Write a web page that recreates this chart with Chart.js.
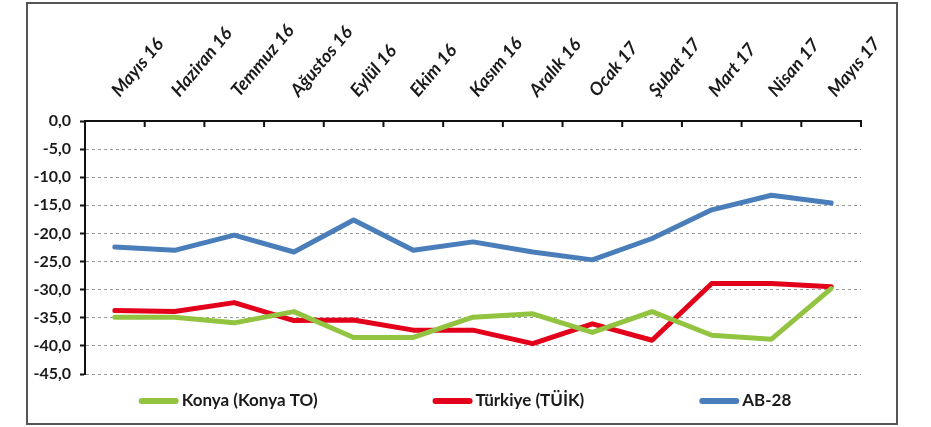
<!DOCTYPE html>
<html>
<head>
<meta charset="utf-8">
<script src="https://cdn.jsdelivr.net/npm/chart.js@4.4.1/dist/chart.umd.min.js"></script>
<style>
  html, body { margin: 0; padding: 0; background: #fff; }
  #wrap { width: 931px; height: 427px; }
</style>
</head>
<body>
<div id="wrap"><canvas id="myChart" width="931" height="427"></canvas></div>
<script>
// -------------  DATA  -------------
const months = ['Mayıs 16', 'Haziran 16', 'Temmuz 16', 'Ağustos 16', 'Eylül 16', 'Ekim 16',
                'Kasım 16', 'Aralık 16', 'Ocak 17', 'Şubat 17', 'Mart 17', 'Nisan 17', 'Mayıs 17'];
const konya   = [-34.9, -34.9, -35.9, -33.9, -38.5, -38.5, -34.9, -34.3, -37.6, -33.9, -38.1, -38.8, -29.8];
const turkiye = [-33.7, -33.9, -32.3, -35.5, -35.4, -37.2, -37.2, -39.6, -36.1, -39.0, -28.9, -28.9, -29.5];
const ab28    = [-22.4, -23.0, -20.3, -23.3, -17.6, -23.0, -21.5, -23.3, -24.7, -20.9, -15.8, -13.2, -14.6];
const yTicks  = [0, -5, -10, -15, -20, -25, -30, -35, -40, -45];

const GREEN = '#92c441';
const RED   = '#e2001a';
const BLUE  = '#4a7ebb';
const FONT  = 'Lato, "Open Sans", sans-serif';
//==================================

// frame round the whole chart + inward tick marks on the top axis
const framePlugin = {
    id: 'frame',
    beforeDraw(chart) {
        const ctx = chart.ctx;
        ctx.save();
        ctx.fillStyle = '#fff';
        ctx.fillRect(0, 0, chart.width, chart.height);
        ctx.strokeStyle = '#555';
        ctx.lineWidth = 2;
        ctx.strokeRect(27, 3, 870, 421);
        ctx.restore();
    },
    afterDraw(chart) {
        const ctx = chart.ctx;
        const x = chart.scales.x;
        const a = chart.chartArea;
        ctx.save();
        ctx.strokeStyle = '#111';
        ctx.lineWidth = 2;
        ctx.beginPath();
        for (let i = 1; i <= months.length; i++) {
            const px = x.getPixelForValue(i - 0.5);
            ctx.moveTo(px, a.top);
            ctx.lineTo(px, a.top + 6);
        }
        ctx.stroke();
        ctx.restore();
    }
};

// legend drawn by hand so the wide spacing of the original can be kept
const legendPlugin = {
    id: 'wideLegend',
    afterDraw(chart) {
        const ctx = chart.ctx;
        const lineW = 40, gap = 3, spacing = 115, y = 401;
        ctx.save();
        ctx.font = 'bold 17px ' + FONT;
        ctx.textBaseline = 'middle';
        const items = chart.data.datasets.map(ds => ({
            label: ds.label, color: ds.borderColor,
            w: lineW + gap + ctx.measureText(ds.label).width
        }));
        const total = items.reduce((s, it) => s + it.w, 0) + spacing * (items.length - 1);
        let x = 465 - total / 2;
        items.forEach(it => {
            ctx.strokeStyle = it.color;
            ctx.lineWidth = 6;
            ctx.lineCap = 'round';
            ctx.beginPath();
            ctx.moveTo(x + 3, y);
            ctx.lineTo(x + lineW - 3, y);
            ctx.stroke();
            ctx.fillStyle = '#1a1a1a';
            ctx.fillText(it.label, x + lineW + gap, y);
            x += it.w + spacing;
        });
        ctx.restore();
    }
};

function lineSet(label, data, color) {
    return {
        label: label,
        data: data,
        borderColor: color,
        backgroundColor: color,
        borderWidth: 5,
        pointRadius: 0,
        tension: 0,
        borderJoinStyle: 'round',
        borderCapStyle: 'round'
    };
}

new Chart(document.getElementById('myChart'), {
    type: 'line',
    data: {
        labels: months,
        datasets: [
            lineSet('Konya (Konya TO)', konya, GREEN),
            lineSet('Türkiye (TÜİK)', turkiye, RED),
            lineSet('AB-28', ab28, BLUE)
        ]
    },
    plugins: [framePlugin, legendPlugin],
    options: {
        responsive: false,
        animation: false,
        devicePixelRatio: 1,
        layout: { padding: { left: 28, right: 70, top: 3, bottom: 53 } },
        scales: {
            x: {
                position: 'top',
                offset: true,
                afterFit: s => { s.height = 118; },
                grid: { display: false, drawTicks: false },
                border: { display: true, color: '#111', width: 2 },
                ticks: {
                    autoSkip: false,
                    minRotation: 50,
                    maxRotation: 50,
                    padding: 20,
                    labelOffset: 17,
                    color: '#1a1a1a',
                    font: { family: FONT, size: 18, weight: 'bold', style: 'italic' }
                }
            },
            y: {
                min: -45,
                max: 0,
                afterFit: s => { s.width = 57; },
                afterBuildTicks: s => { s.ticks = yTicks.map(v => ({ value: v })); },
                grid: {
                    color: '#9a9a9a',
                    lineWidth: 1,
                    tickColor: '#111',
                    tickWidth: 2,
                    tickLength: 5
                },
                border: { display: true, color: '#111', width: 2, dash: [3, 3] },
                ticks: {
                    padding: 9,
                    color: '#1a1a1a',
                    font: { family: FONT, size: 16, weight: 'bold' },
                    callback: v => v.toFixed(1).replace('.', ',')
                }
            }
        },
        plugins: {
            legend: { display: false },
            tooltip: { enabled: false }
        }
    }
});
</script>
</body>
</html>
